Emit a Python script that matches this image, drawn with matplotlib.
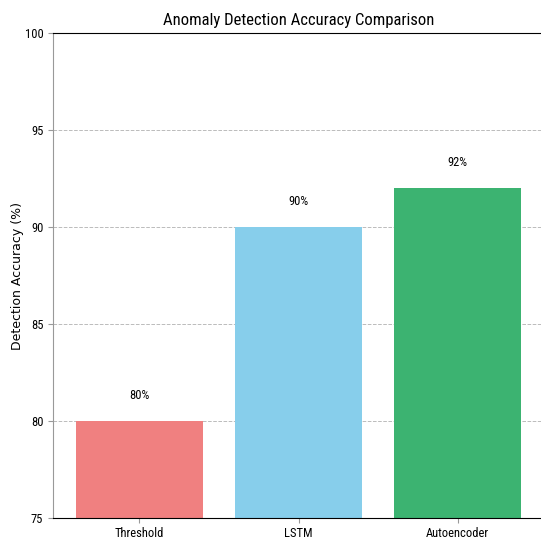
import matplotlib
matplotlib.use("Agg")
import matplotlib.pyplot as plt
from matplotlib import font_manager

methods = ["Threshold", "LSTM", "Autoencoder"]
accuracy = [80, 90, 92]
bar_colors = ["lightcoral", "skyblue", "mediumseagreen"]
y_ticks = [75, 80, 85, 90, 95, 100]

names = {f.name for f in font_manager.fontManager.ttflist}
narrow = "DejaVu Sans"
for cand in ["Roboto Condensed", "Open Sans Condensed", "Liberation Sans Narrow",
             "DejaVu Sans Condensed", "Noto Sans Condensed"]:
    if cand in names:
        narrow = cand
        break
text_kw = dict(family=narrow, stretch="condensed")

fig = plt.figure(figsize=(5.41, 5.37), dpi=100)
ax = fig.add_axes([53 / 541, 19 / 537, 491 / 541, 485 / 537])

ax.bar(methods, accuracy, color=bar_colors, width=0.8, zorder=2)
ax.set_ylim(75, 100)
ax.set_xlim(-0.544, 2.544)
ax.set_yticks(y_ticks)
ax.yaxis.grid(True, linestyle="--", color="#bbbbbb", linewidth=0.7, zorder=0)

for i, v in enumerate(accuracy):
    ax.text(i, v + 1, f"{v}%", ha="center", va="bottom", fontsize=9, **text_kw)

ax.set_title("Anomaly Detection Accuracy Comparison", fontsize=12, **text_kw)
ax.set_ylabel("Detection Accuracy (%)", fontsize=9)
ax.yaxis.set_label_coords(-0.059, 0.5)
for lab in ax.get_xticklabels() + ax.get_yticklabels():
    lab.set_family(narrow)
    lab.set_stretch("condensed")
    lab.set_fontsize(9)

ax.spines["left"].set_color("#999999")
ax.tick_params(axis="y", color="#999999")
ax.tick_params(axis="x", color="#999999", pad=3)

fig.savefig("out.png", dpi=100)
